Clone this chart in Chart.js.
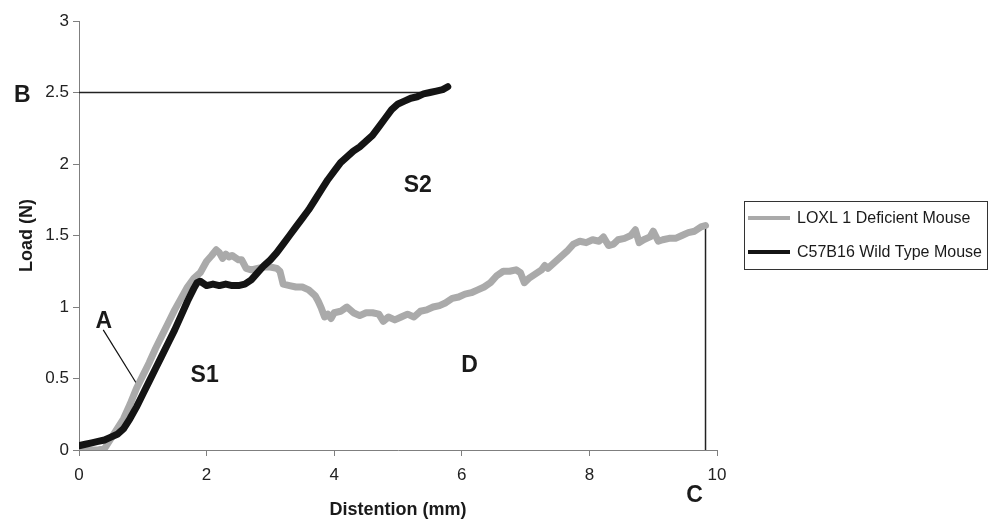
<!DOCTYPE html>
<html>
<head>
<meta charset="utf-8">
<script src="https://cdn.jsdelivr.net/npm/chart.js@4/dist/chart.umd.min.js"></script>
<style>
  html, body { margin: 0; padding: 0; background: #ffffff; }
  #wrap { position: relative; width: 990px; height: 521px; }
</style>
</head>
<body>
<div id="wrap"><canvas id="c" width="990" height="521"></canvas></div>
<script>
// ---- Data ----
const seriesNames = ['LOXL 1 Deficient Mouse', 'C57B16 Wild Type Mouse'];

const loxlDistention = [0, 0.1, 0.2, 0.3, 0.4, 0.5, 0.6, 0.7, 0.8, 0.9, 1.0, 1.1, 1.2, 1.3, 1.4, 1.5, 1.6, 1.7, 1.8, 1.9, 1.95, 2.0, 2.08, 2.15, 2.2, 2.25, 2.3, 2.35, 2.4, 2.5, 2.55, 2.62, 2.7, 2.8, 2.9, 3.0, 3.1, 3.15, 3.2, 3.3, 3.4, 3.5, 3.6, 3.7, 3.75, 3.8, 3.85, 3.9, 3.95, 4.0, 4.1, 4.2, 4.3, 4.4, 4.5, 4.6, 4.7, 4.77, 4.85, 4.95, 5.05, 5.15, 5.25, 5.35, 5.45, 5.55, 5.65, 5.75, 5.85, 5.95, 6.05, 6.15, 6.25, 6.35, 6.45, 6.55, 6.65, 6.75, 6.85, 6.92, 6.98, 7.05, 7.15, 7.25, 7.3, 7.35, 7.45, 7.55, 7.65, 7.75, 7.85, 7.95, 8.05, 8.15, 8.22, 8.3, 8.38, 8.45, 8.55, 8.65, 8.72, 8.78, 8.85, 8.95, 9.0, 9.08, 9.15, 9.25, 9.35, 9.45, 9.55, 9.65, 9.75, 9.82];
const loxlLoad = [0.0, 0.0, 0.0, 0.0, 0.01, 0.08, 0.15, 0.22, 0.32, 0.43, 0.52, 0.61, 0.71, 0.80, 0.89, 0.98, 1.06, 1.14, 1.20, 1.24, 1.28, 1.32, 1.36, 1.40, 1.38, 1.34, 1.37, 1.35, 1.36, 1.33, 1.33, 1.27, 1.26, 1.27, 1.28, 1.28, 1.27, 1.25, 1.16, 1.15, 1.14, 1.14, 1.12, 1.08, 1.04, 0.99, 0.93, 0.95, 0.92, 0.96, 0.97, 1.00, 0.96, 0.94, 0.96, 0.96, 0.95, 0.90, 0.93, 0.91, 0.93, 0.95, 0.93, 0.97, 0.98, 1.00, 1.01, 1.03, 1.06, 1.07, 1.09, 1.10, 1.12, 1.14, 1.17, 1.22, 1.25, 1.25, 1.26, 1.24, 1.17, 1.20, 1.23, 1.26, 1.29, 1.27, 1.31, 1.35, 1.39, 1.44, 1.46, 1.45, 1.47, 1.46, 1.49, 1.43, 1.44, 1.47, 1.48, 1.50, 1.54, 1.45, 1.47, 1.49, 1.53, 1.46, 1.47, 1.48, 1.48, 1.50, 1.52, 1.53, 1.56, 1.57];

const wildDistention = [0, 0.1, 0.2, 0.3, 0.4, 0.5, 0.6, 0.7, 0.8, 0.9, 1.0, 1.1, 1.2, 1.3, 1.4, 1.5, 1.6, 1.7, 1.8, 1.85, 1.9, 2.0, 2.1, 2.2, 2.3, 2.4, 2.5, 2.6, 2.7, 2.8, 2.9, 3.0, 3.1, 3.2, 3.3, 3.4, 3.5, 3.6, 3.7, 3.8, 3.9, 4.0, 4.1, 4.2, 4.3, 4.4, 4.5, 4.6, 4.7, 4.8, 4.9, 5.0, 5.1, 5.2, 5.3, 5.4, 5.5, 5.6, 5.7, 5.78];
const wildLoad = [0.03, 0.04, 0.05, 0.06, 0.07, 0.09, 0.11, 0.15, 0.22, 0.30, 0.39, 0.48, 0.57, 0.66, 0.75, 0.84, 0.94, 1.04, 1.13, 1.17, 1.18, 1.15, 1.16, 1.15, 1.16, 1.15, 1.15, 1.16, 1.19, 1.24, 1.29, 1.33, 1.38, 1.44, 1.50, 1.56, 1.62, 1.68, 1.75, 1.82, 1.89, 1.95, 2.01, 2.05, 2.09, 2.12, 2.16, 2.20, 2.26, 2.32, 2.38, 2.42, 2.44, 2.46, 2.47, 2.49, 2.50, 2.51, 2.52, 2.54];

// reference guide lines (data units)
const lineB = { distention: [0, 5.35], load: [2.5, 2.5] };
const lineC = { distention: [9.82, 9.82], load: [1.57, 0] };
const pointerA = { distention: [0.38, 0.95], load: [0.84, 0.43] };

// annotation letters and their data anchors
const noteText = ['A', 'B', 'C', 'D', 'S1', 'S2'];
const noteDistention = [0.39, -0.89, 9.65, 6.12, 1.97, 5.31];
const noteLoad = [0.90, 2.48, -0.32, 0.59, 0.52, 1.85];

// axis ticks
const xTicks = [0, 2, 4, 6, 8, 10];
const yTicks = [0, 0.5, 1, 1.5, 2, 2.5, 3];

// ---- Build ----
const toPts = (xs, ys) => xs.map((x, i) => ({ x: x, y: ys[i] }));
const FONT = '"Liberation Sans", Arial, sans-serif';
const GRAY = '#aaaaaa';
const BLACK = '#141414';
const AXIS = '#7f7f7f';

const notesPlugin = {
  id: 'notes',
  afterDatasetsDraw(chart) {
    const ctx = chart.ctx;
    const xs = chart.scales.x, ys = chart.scales.y;
    ctx.save();
    ctx.fillStyle = '#1a1a1a';
    ctx.font = 'bold 23px ' + FONT;
    ctx.textAlign = 'center';
    ctx.textBaseline = 'middle';
    noteText.forEach((t, i) => {
      ctx.fillText(t, xs.getPixelForValue(noteDistention[i]), ys.getPixelForValue(noteLoad[i]));
    });
    ctx.restore();
  }
};

const legendPlugin = {
  id: 'boxLegend',
  afterDraw(chart) {
    const ctx = chart.ctx;
    const left = 744, top = 201, w = 243, h = 68;
    ctx.save();
    ctx.strokeStyle = '#333333';
    ctx.lineWidth = 1;
    ctx.strokeRect(left + 0.5, top + 0.5, w, h);
    const ds = [chart.data.datasets[0], chart.data.datasets[1]];
    const rows = [218, 252];
    ctx.font = '16px ' + FONT;
    ctx.textBaseline = 'middle';
    ctx.textAlign = 'left';
    ds.forEach((d, i) => {
      ctx.strokeStyle = d.borderColor;
      ctx.lineWidth = 4;
      ctx.beginPath();
      ctx.moveTo(748, rows[i]);
      ctx.lineTo(790, rows[i]);
      ctx.stroke();
      ctx.fillStyle = '#1a1a1a';
      ctx.fillText(d.label, 797, rows[i] + 1);
    });
    ctx.restore();
  }
};

const guide = (obj, width, color) => ({
  label: '',
  data: toPts(obj.distention, obj.load),
  borderColor: color,
  borderWidth: width,
  pointRadius: 0,
  showLine: true,
  order: 2
});

new Chart(document.getElementById('c'), {
  type: 'scatter',
  data: {
    datasets: [
      {
        label: seriesNames[0],
        data: toPts(loxlDistention, loxlLoad),
        borderColor: GRAY,
        backgroundColor: GRAY,
        borderWidth: 7,
        pointRadius: 0,
        showLine: true,
        tension: 0,
        borderJoinStyle: 'round',
        borderCapStyle: 'round',
        order: 1
      },
      {
        label: seriesNames[1],
        data: toPts(wildDistention, wildLoad),
        borderColor: BLACK,
        backgroundColor: BLACK,
        borderWidth: 7,
        pointRadius: 0,
        showLine: true,
        tension: 0,
        borderJoinStyle: 'round',
        borderCapStyle: 'round',
        order: 0
      },
      guide(lineB, 1.5, '#222222'),
      guide(lineC, 1.5, '#222222'),
      guide(pointerA, 1.2, '#111111')
    ]
  },
  options: {
    responsive: false,
    animation: false,
    events: [],
    layout: { padding: { left: 16, top: 21, right: 273, bottom: 0 } },
    plugins: {
      legend: { display: false },
      tooltip: { enabled: false }
    },
    scales: {
      x: {
        type: 'linear',
        min: 0, max: 10,
        afterFit(s) { s.height = 71; },
        afterBuildTicks(s) { s.ticks = xTicks.map(v => ({ value: v })); },
        ticks: { color: '#222222', padding: 9, font: { family: FONT, size: 17 },
                 callback: v => String(v) },
        grid: { display: true, drawOnChartArea: false, drawTicks: true, tickLength: 6, color: AXIS },
        border: { display: true, color: AXIS, width: 1 },
        title: { display: true, text: 'Distention (mm)', color: '#1a1a1a', padding: 0,
                 font: { family: FONT, size: 18, weight: 'bold' } }
      },
      y: {
        type: 'linear',
        min: 0, max: 3,
        afterFit(s) { s.width = 63; },
        afterBuildTicks(s) { s.ticks = yTicks.map(v => ({ value: v })); },
        ticks: { color: '#222222', padding: 4, font: { family: FONT, size: 17 },
                 callback: v => String(v) },
        grid: { display: true, drawOnChartArea: false, drawTicks: true, tickLength: 6, color: AXIS },
        border: { display: true, color: AXIS, width: 1 },
        title: { display: true, text: 'Load (N)', color: '#1a1a1a', padding: 0,
                 font: { family: FONT, size: 18, weight: 'bold' } }
      }
    }
  },
  plugins: [notesPlugin, legendPlugin]
});
</script>
</body>
</html>
